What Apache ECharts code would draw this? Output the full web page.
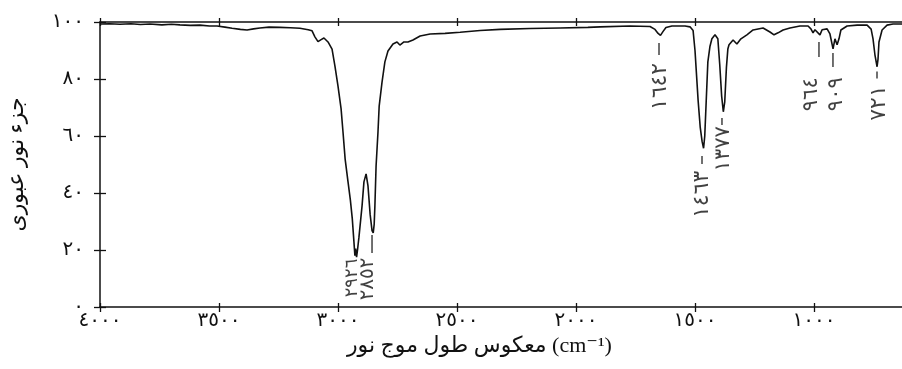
<!DOCTYPE html>
<html>
<head>
<meta charset="utf-8">
<script src="https://cdn.jsdelivr.net/npm/echarts@6/dist/echarts.min.js"></script>
<style>html,body{margin:0;padding:0;background:#fff;}#c{width:902px;height:369px;}</style>
</head>
<body>
<div id="c"></div>
<script>
// ---- data ----
var wavenumbers = [4000,3960,3916,3870,3830,3790,3740,3700,3664,3620,3580,3540,3508,3475,3445,3410,3382,3355,3328,3290,3244,3200,3160,3125,3109,3097,3084,3071,3059,3042,3025,3013,3000,2987,2979,2970,2958,2948,2940,2934,2929,2926,2922,2918,2912,2899,2891,2882,2874,2865,2857,2852,2848,2845,2840,2832,2827,2815,2803,2790,2769,2752,2740,2723,2706,2685,2655,2613,2550,2487,2403,2319,2193,2067,1950,1899,1773,1689,1668,1655,1645,1639,1634,1622,1597,1542,1521,1508,1500,1487,1478,1470,1464,1459,1453,1446,1437,1429,1416,1404,1396,1388,1381,1375,1368,1362,1357,1340,1324,1307,1282,1256,1214,1206,1185,1168,1151,1130,1101,1059,1025,1013,1004,996,988,975,966,945,933,920,912,903,895,887,861,819,777,760,752,744,735,731,727,714,693,668,630,600];
var transmittance = [99.3,99.4,99.2,99.4,99.1,99.3,99.0,99.2,99.0,98.8,98.9,98.6,98.6,98.2,97.8,97.4,97.2,97.6,97.9,98.2,98.1,98.0,97.8,97.3,96.9,94.8,93.1,93.8,94.4,93.0,90.5,84.6,77.5,69.5,61.4,51.9,44.0,37.5,31.0,24.0,18.0,20.5,17.5,20.0,24.5,35.4,43.9,46.7,42.5,32.5,26.8,26.0,29.0,35.4,49.5,61.4,70.5,78.9,86.0,89.8,92.3,93.0,91.9,93.0,93.0,93.7,95.1,95.8,96.0,96.4,97.0,97.4,97.7,97.9,98.1,98.3,98.6,98.4,97.4,96.0,95.3,95.6,96.7,98.1,98.6,98.6,98.3,97.0,90.0,72.6,63.0,58.0,55.7,60.0,72.0,86.0,91.5,94.1,95.5,94.1,85.0,74.0,68.5,72.0,84.0,90.5,92.0,93.7,92.3,94.1,95.5,97.2,97.9,97.2,96.5,95.5,96.2,97.2,97.9,98.6,98.6,97.6,96.2,97.3,96.6,95.5,97.3,97.6,95.8,90.6,94.1,92.0,94.1,97.2,98.6,98.9,98.9,97.5,94.1,88.5,84.3,87.0,93.0,97.2,98.9,99.3,99.3,99.3];

var peakWavenumbers = [2926, 2852, 1642, 1463, 1377, 964, 909, 721];
var peakTransmittance = [17.5, 26.0, 95.3, 55.7, 68.5, 95.5, 90.6, 84.3];
var peakLabels = ['٢٩٢٦','٢٨٥٢','١٦٤٢','١٤٦٣','١٣٧٧','٩٦٤','٩٠٩','٧٢١'];

var xTickValues = [4000, 3500, 3000, 2500, 2000, 1500, 1000, 500];
var xTickLabels = ['٤٠٠٠','٣٥٠٠','٣٠٠٠','٢٥٠٠','٢٠٠٠','١٥٠٠','١٠٠٠','٥٠٠'];
var yTickValues = [0, 20, 40, 60, 80, 100];
var yTickLabels = ['٠','٢٠','٤٠','٦٠','٨٠','١٠٠'];

var xTitle = 'معکوس طول موج نور (cm⁻¹)';
var yTitle = 'جزء نور عبوری';

// ---- styles (annotation placement in pixels) ----
var labelOffsets = [[-3,2],[-5,25],[0,28],[-1,23],[0,15],[-10.6,43],[1.3,29],[-0.4,19]];
var labelSizes = [18,20,22,22,21,21,21,22];
var dashLengths = [0,18,12,8,7,15,14,7];
var dashOffsets = [[0,0],[-1.2,11],[-2.2,13.6],[-1.8,11.7],[-2.3,9.7],[-3.6,14.7],[-2.7,11.2],[-3.4,8.3]];

var FONT = "'Liberation Serif','DejaVu Sans',serif";
var INK = '#111';

var lineData = wavenumbers.map(function (w, i) { return [w, transmittance[i]]; });
var labelData = peakWavenumbers.map(function (w, i) {
  return { value: [w, peakTransmittance[i]], name: peakLabels[i],
    label: { position: labelOffsets[i], fontSize: labelSizes[i] } };
});
var dashData = peakWavenumbers.map(function (w, i) {
  return { value: [w, peakTransmittance[i]],
    symbolSize: [1.5, dashLengths[i]], symbolOffset: [dashOffsets[i][0], dashOffsets[i][1]] };
});

function xFmt(v) { var k = xTickValues.indexOf(v); return k >= 0 ? xTickLabels[k] : ''; }
function yFmt(v) { var k = yTickValues.indexOf(v); return k >= 0 ? yTickLabels[k] : ''; }

var gridBox = { left: 100, right: -31, top: 22, bottom: 62, outerBoundsMode: 'none', containLabel: false };
var xBase = { type: 'value', min: 500, max: 4000, interval: 500, inverse: true, splitLine: { show: false } };
var yBase = { type: 'value', min: 0, max: 100, interval: 20, splitLine: { show: false } };
var lineSt = { show: true, lineStyle: { color: INK, width: 1.5 } };

var chart = echarts.init(document.getElementById('c'), null, { renderer: 'canvas' });
chart.setOption({
  animation: false,
  backgroundColor: '#fff',
  grid: [Object.assign({}, gridBox), Object.assign({}, gridBox)],
  xAxis: [
    Object.assign({}, xBase, { gridIndex: 0, position: 'bottom', axisLine: lineSt,
      axisTick: { show: true, inside: false, length: 5, lineStyle: { color: INK, width: 1.3 } },
      axisLabel: { show: true, margin: 4, formatter: xFmt, color: INK, fontSize: 20, fontFamily: FONT } }),
    Object.assign({}, xBase, { gridIndex: 0, position: 'top', axisLine: lineSt,
      axisTick: { show: true, inside: false, length: 4, lineStyle: { color: INK, width: 1.3 } },
      axisLabel: { show: false } }),
    Object.assign({}, xBase, { gridIndex: 1, position: 'bottom', axisLine: { show: false },
      axisTick: { show: true, inside: true, length: 4, lineStyle: { color: INK, width: 1.3 } },
      axisLabel: { show: false } }),
    Object.assign({}, xBase, { gridIndex: 1, position: 'top', axisLine: { show: false },
      axisTick: { show: true, inside: true, length: 4, lineStyle: { color: INK, width: 1.3 } },
      axisLabel: { show: false } })
  ],
  yAxis: [
    Object.assign({}, yBase, { gridIndex: 0, position: 'left', axisLine: lineSt,
      axisTick: { show: true, inside: false, length: 6, lineStyle: { color: INK, width: 1.3 } },
      axisLabel: { show: true, margin: 16, formatter: yFmt, color: INK, fontSize: 20, fontFamily: FONT },
      name: yTitle, nameLocation: 'middle', nameGap: 72,
      nameTextStyle: { color: INK, fontSize: 22, fontFamily: FONT } }),
    Object.assign({}, yBase, { gridIndex: 1, position: 'left', axisLine: { show: false },
      axisTick: { show: true, inside: true, length: 6, lineStyle: { color: INK, width: 1.3 } },
      axisLabel: { show: false } })
  ],
  graphic: [{
    type: 'text', left: 347, top: 335, silent: true,
    style: { text: xTitle, fill: INK, font: '22px ' + FONT }
  }],
  series: [
    { type: 'line', xAxisIndex: 0, yAxisIndex: 0, data: lineData, showSymbol: false, symbol: 'none',
      lineStyle: { color: INK, width: 1.6 }, silent: true, z: 3 },
    { type: 'scatter', xAxisIndex: 0, yAxisIndex: 0, data: dashData, symbol: 'rect',
      itemStyle: { color: INK }, silent: true, z: 4 },
    { type: 'scatter', xAxisIndex: 0, yAxisIndex: 0, data: labelData, symbol: 'circle', symbolSize: 1,
      itemStyle: { color: 'rgba(0,0,0,0)' }, silent: true, z: 5,
      labelLayout: { hideOverlap: false },
      label: { show: true, rotate: 90, align: 'right', verticalAlign: 'middle', color: INK,
        fontFamily: FONT, formatter: function (p) { return p.name; } } }
  ]
});
</script>
</body>
</html>
